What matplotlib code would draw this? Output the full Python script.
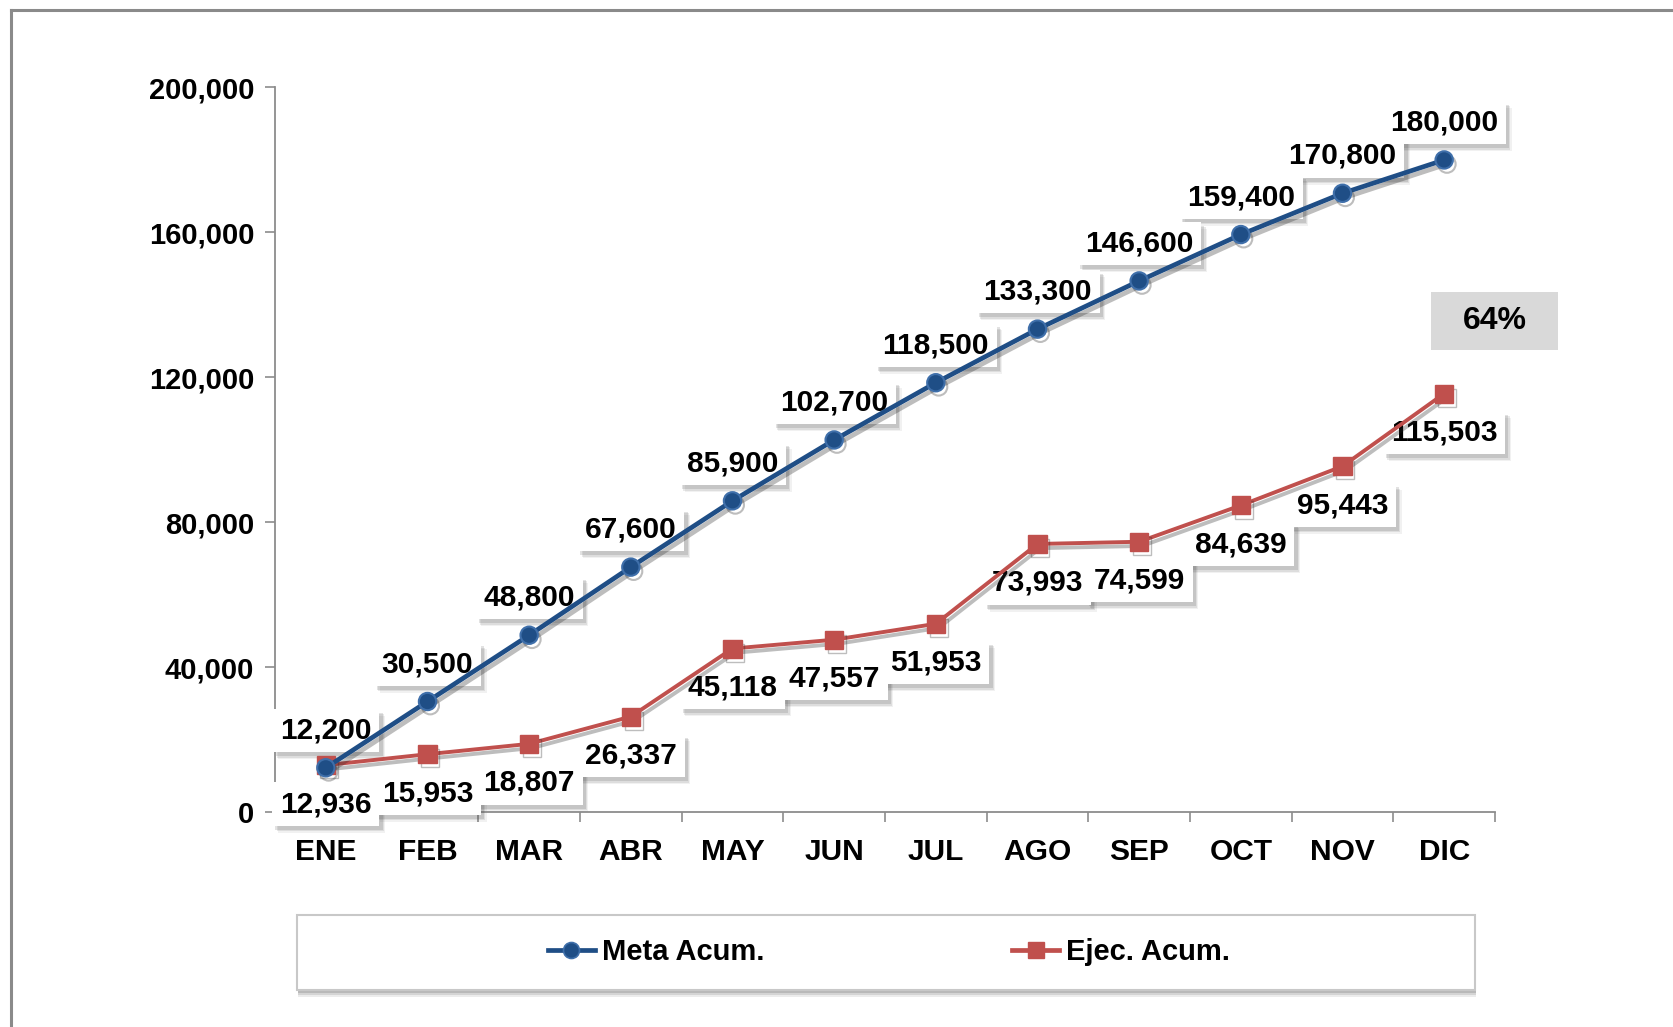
import matplotlib
matplotlib.use("Agg")
import matplotlib.pyplot as plt
import matplotlib.patheffects as pe
from matplotlib.patches import Rectangle
from matplotlib.lines import Line2D
from matplotlib.transforms import IdentityTransform
from matplotlib.ticker import FuncFormatter, FixedLocator

months = ["ENE", "FEB", "MAR", "ABR", "MAY", "JUN", "JUL", "AGO", "SEP", "OCT", "NOV", "DIC"]
meta = [12200, 30500, 48800, 67600, 85900, 102700, 118500, 133300, 146600, 159400, 170800, 180000]
ejec = [12936, 15953, 18807, 26337, 45118, 47557, 51953, 73993, 74599, 84639, 95443, 115503]
yticks = [0, 40000, 80000, 120000, 160000, 200000]
pct_label = "64%"
series_names = ["Meta Acum.", "Ejec. Acum."]

plt.rcParams['font.family'] = ['Liberation Sans', 'DejaVu Sans']
plt.rcParams['font.weight'] = 'bold'

W, H = 1673, 1027
fig = plt.figure(figsize=(W / 100, H / 100), dpi=100)
fig.patch.set_facecolor('white')

# outer frame (left + top)
fig.add_artist(Line2D([10.5 / W, 10.5 / W], [0, 1 - 9.5 / H], transform=fig.transFigure,
                      color='#8a8a8a', lw=2.2))
fig.add_artist(Line2D([10.5 / W, 1], [1 - 9.5 / H, 1 - 9.5 / H], transform=fig.transFigure,
                      color='#8a8a8a', lw=2.2))

ax = fig.add_axes([275 / W, 1 - 812 / H, (1495 - 275) / W, (812 - 87.5) / H])
x = list(range(len(months)))

blue = '#1F4E86'
blue_edge = '#3F6FAA'
red = '#C0504D'

shadow = [pe.SimpleLineShadow(offset=(2, -3), shadow_color='0.15', alpha=0.3), pe.Normal()]
l1, = ax.plot(x, meta, color=blue, lw=3.4, marker='o', markersize=12.5,
              markerfacecolor=blue, markeredgecolor=blue_edge, markeredgewidth=1.5,
              zorder=5, path_effects=shadow, label=series_names[0])
l2, = ax.plot(x, ejec, color=red, lw=2.8, marker='s', markersize=13,
              markerfacecolor=red, markeredgecolor=red, zorder=4,
              path_effects=shadow, label=series_names[1])

LFS = 21.5
labels = []

def label(xi, yi, dy):
    a = ax.annotate(f"{yi:,}", (xi, yi), xytext=(0, dy), textcoords='offset points',
                    ha='center', va='center', fontsize=LFS, fontweight='bold', color='black',
                    bbox=dict(boxstyle='square,pad=0.26', fc='white', ec='none'),
                    zorder=3, annotation_clip=False)
    labels.append(a)

for xi, yi in zip(x, meta):
    label(xi, yi, 27)
for xi, yi in zip(x, ejec):
    label(xi, yi, -28)

ax.set_xlim(-0.5, len(months) - 0.5)
ax.set_ylim(0, 200000)
ax.yaxis.set_major_locator(FixedLocator(yticks))
ax.yaxis.set_major_formatter(FuncFormatter(lambda v, p: f"{int(v):,}"))
ax.set_xticks(x)
ax.set_xticklabels(months)
ax.set_xticks([i - 0.5 for i in range(len(months) + 1)], minor=True)

for s in ['top', 'right']:
    ax.spines[s].set_visible(False)
for s in ['left', 'bottom']:
    ax.spines[s].set_color('#8c8c8c')
    ax.spines[s].set_linewidth(1.3)

ax.tick_params(axis='x', which='major', length=0, pad=19, labelsize=21.5)
ax.tick_params(axis='x', which='minor', length=7, color='#8c8c8c', width=1.2)
ax.tick_params(axis='y', which='major', length=7, color='#8c8c8c', width=1.2, pad=8, labelsize=21)
for t in ax.get_xticklabels() + ax.get_yticklabels():
    t.set_fontweight('bold')

# 64% box
fig.add_artist(Rectangle((1431 / W, 1 - 350 / H), (1558 - 1431) / W, (350 - 292) / H,
                         transform=fig.transFigure, fc='#D9D9D9', ec='none'))
fig.text(1494.5 / W, 1 - 321 / H, pct_label, ha='center', va='center', fontsize=23, fontweight='bold')

# legend box
lb = Rectangle((297 / W, 1 - 990 / H), (1475 - 297) / W, (990 - 915) / H, transform=fig.transFigure,
               fc='white', ec='#c8c8c8', lw=1.5, zorder=1)
for k, (off, al) in enumerate([(7, 0.10), (5, 0.15), (3, 0.2)]):
    fig.add_artist(Rectangle((297 / W + 1 / W, 1 - (990 + off) / H), (1475 - 297) / W, (990 - 915) / H,
                             transform=fig.transFigure, fc=(0.3, 0.3, 0.3, al), ec='none', zorder=0.9))
fig.add_artist(lb)

h1 = Line2D([], [], color=blue, lw=3.4, marker='o', markersize=11.5, markerfacecolor=blue,
            markeredgecolor=blue_edge, markeredgewidth=1.2)
h2 = Line2D([], [], color=red, lw=3.4, marker='s', markersize=11.5, markerfacecolor=red,
            markeredgecolor=red)
leg = fig.legend([h1, h2], series_names, loc='center', bbox_to_anchor=(889 / W, 1 - 952 / H),
                 ncol=2, frameon=False, columnspacing=8.5, handlelength=1.6, handletextpad=0.25,
                 prop=dict(family=['Liberation Sans', 'DejaVu Sans'], weight='bold', size=21))
leg.set_zorder(5)

# soft drop shadows behind the data-label boxes (measured after layout)
fig.canvas.draw()
renderer = fig.canvas.get_renderer()
for a in labels:
    bb = a.get_bbox_patch().get_window_extent(renderer)
    for k, (off, al) in enumerate([(7, 0.08), (5.5, 0.12), (4, 0.16)]):
        ax.add_patch(Rectangle((bb.x0 + off * 0.8, bb.y0 - off), bb.width, bb.height,
                               transform=IdentityTransform(), fc=(0.3, 0.3, 0.3, al), ec='none',
                               zorder=2.5 + 0.05 * k, clip_on=False))

fig.savefig("out.png", dpi=100, facecolor='white')
